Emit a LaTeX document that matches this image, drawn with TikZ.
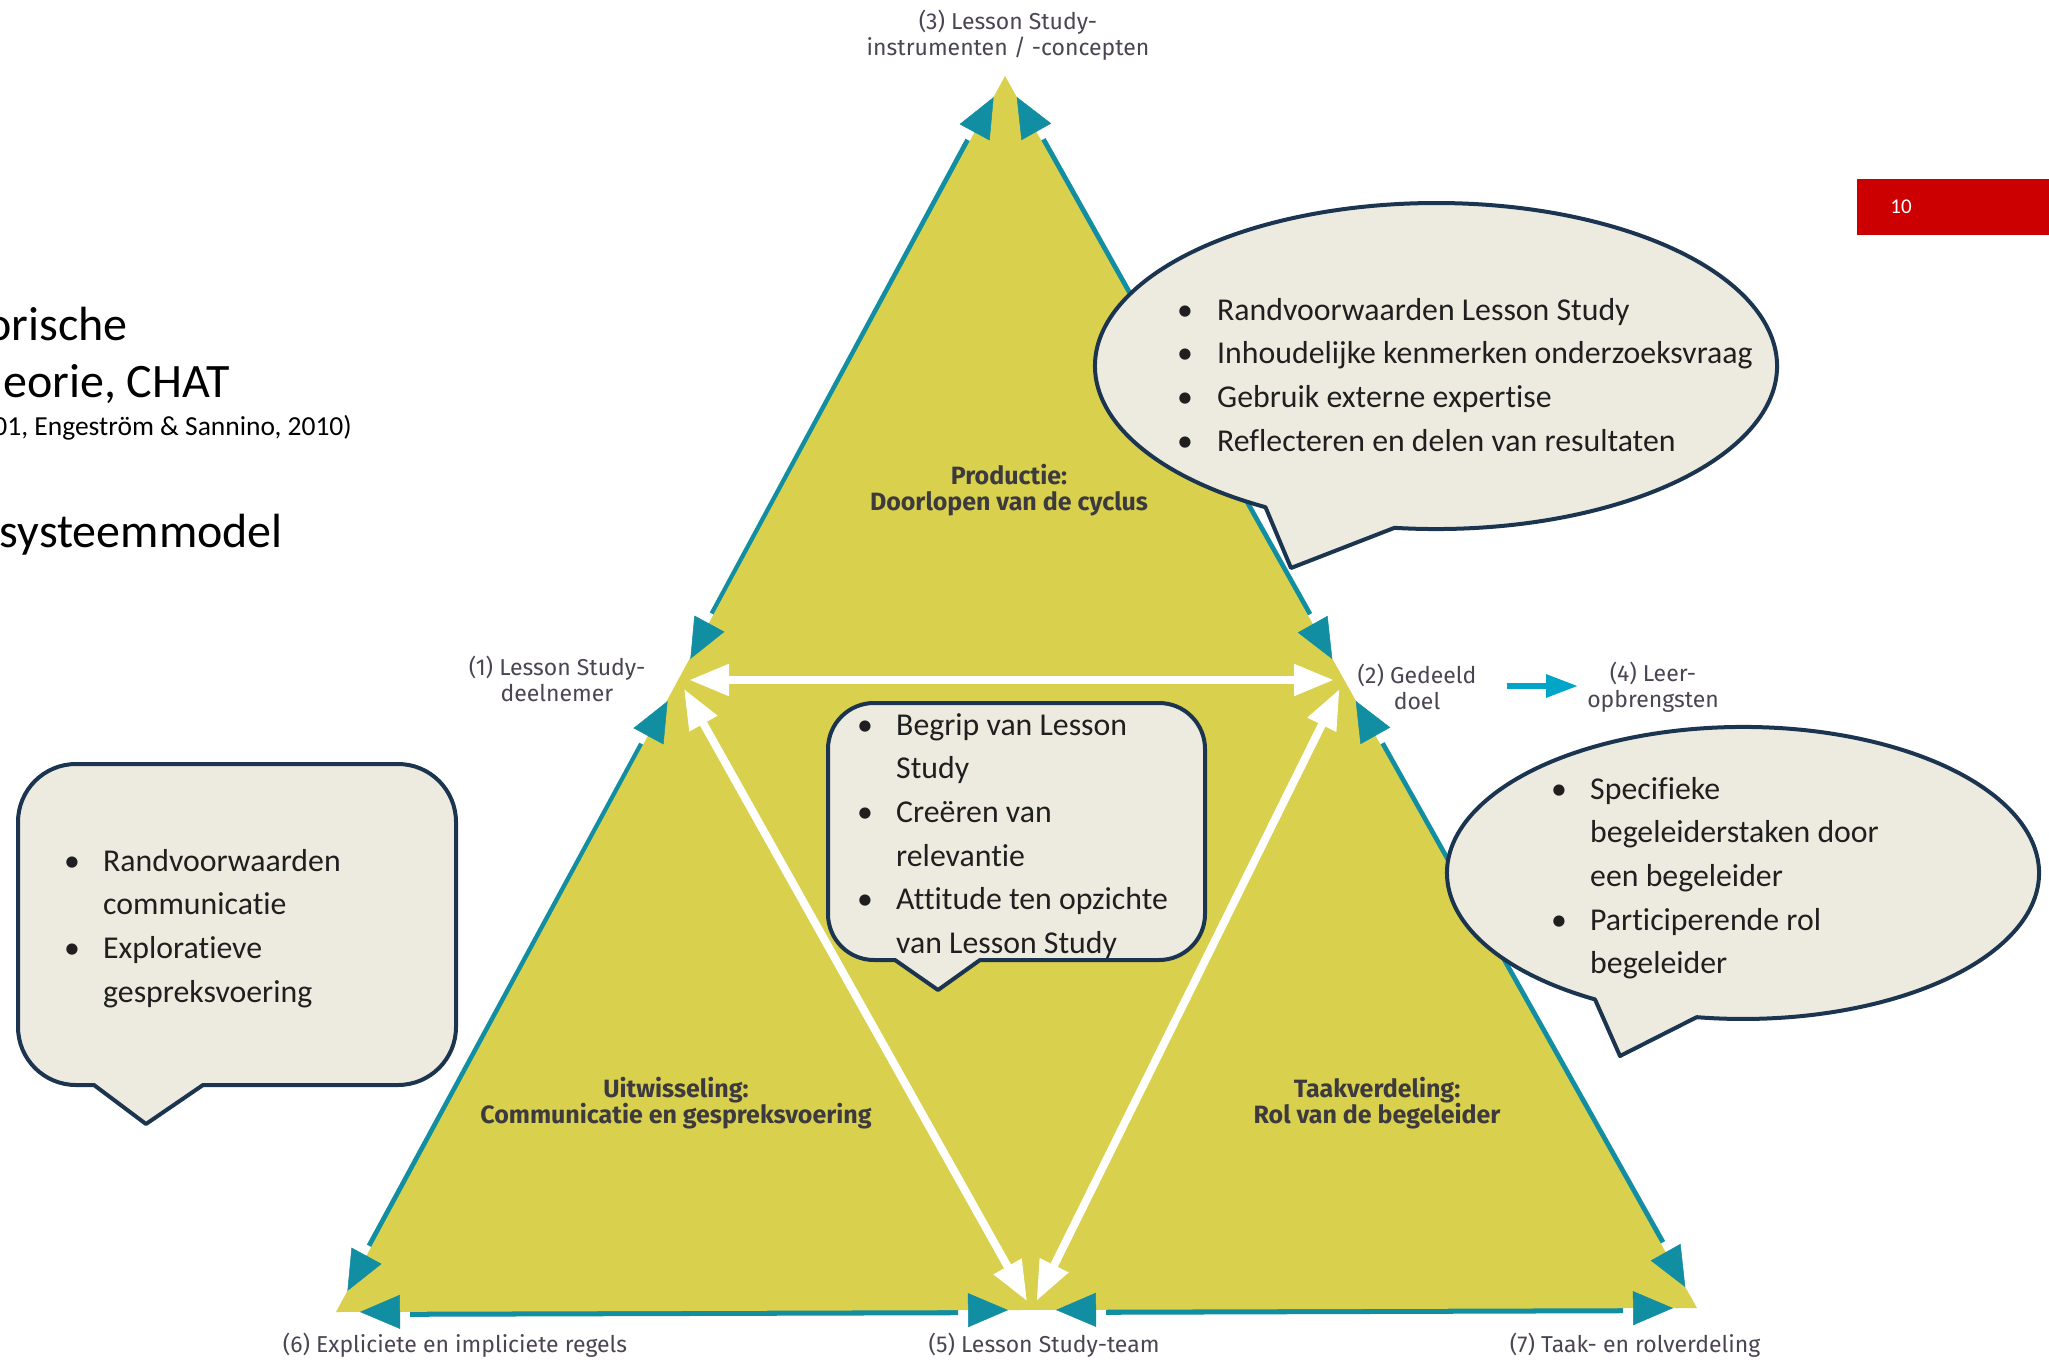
\documentclass[tikz,border=0pt]{standalone}
\usepackage{fontspec}
\setmainfont{Carlito}[Ligatures=NoCommon]
\newfontfamily\lblfont{Fira Sans}[Ligatures=NoCommon]
\usetikzlibrary{arrows.meta,calc}
\definecolor{yel}{HTML}{D9D04D}
\definecolor{tealc}{HTML}{128EA2}
\definecolor{cyanc}{HTML}{00A5C8}
\definecolor{callfill}{HTML}{EDEBE0}
\definecolor{callline}{HTML}{1B3550}
\definecolor{lblc}{HTML}{4B4453}
\definecolor{boldc}{HTML}{3D3A3F}
\definecolor{redc}{HTML}{CC0000}
\newcommand\tealheads[2]{%
  \draw[tealhead] ($(#1)!64pt!(#2)$) -- ($(#1)!24pt!(#2)$);
  \draw[tealhead] ($(#2)!64pt!(#1)$) -- ($(#2)!24pt!(#1)$);}
\newcommand\teallines[2]{%
  \draw[tealline] ($(#1)!74pt!(#2)$) -- ($(#2)!74pt!(#1)$);}
\begin{document}
\begin{tikzpicture}[x=1pt,y=-1pt,
  tealhead/.style={draw=tealc,fill=tealc,line width=0.5pt,-{Triangle[length=40pt,width=34pt]}},
  tealline/.style={draw=tealc,line width=10pt},
  whitearr/.style={draw=white,line width=8pt,{Triangle[length=40pt,width=30pt]}-{Triangle[length=40pt,width=30pt]},shorten <=10pt,shorten >=10pt},
  cyanarr/.style={draw=cyanc,line width=6pt,-{Triangle[length=32pt,width=22pt]}},
  lbl/.style={font=\lblfont\fontsize{23}{25.5}\selectfont,text=lblc,align=center,inner sep=0pt},
  blbl/.style={font=\lblfont\bfseries\fontsize{25}{26}\selectfont,text=boldc,align=center,inner sep=0pt},
  callout/.style={fill=callfill,draw=callline,line width=4pt,line join=round},
  ctext/.style={font=\fontsize{31.8}{40}\selectfont,text=black!88,anchor=base west,inner sep=0pt},
  cbul/.style={font=\fontsize{31.8}{40}\selectfont,text=black!88,anchor=base,inner sep=0pt},
  slide/.style={font=\fontsize{48}{52}\selectfont,text=black,anchor=base east,inner sep=0pt},
]
\useasboundingbox (0,0) rectangle (2049,1359);
\fill[white] (0,0) rectangle (2049,1359);
% triangle corners
\coordinate (A) at (1005,76);
\coordinate (P1) at (679,680);
\coordinate (P2) at (1344,680);
\coordinate (P6) at (336,1312);
\coordinate (P5) at (1032,1310);
\coordinate (P7) at (1697,1308);
% outer teal lines (under the triangle)
\teallines{A}{P1}
\teallines{P1}{P6}
\teallines{P6}{P5}
\teallines{P5}{P7}
\teallines{P7}{P2}
\teallines{P2}{A}
\fill[yel] (A) -- (P7) -- (P6) -- cycle;
% outer teal arrowheads
\tealheads{A}{P1}
\tealheads{P1}{P6}
\tealheads{P6}{P5}
\tealheads{P5}{P7}
\tealheads{P7}{P2}
\tealheads{P2}{A}
% inner white arrows
\draw[whitearr] (P1) -- (P2);
\draw[whitearr] (P1) -- (P5);
\draw[whitearr] (P2) -- (P5);
% labels
\node[lbl] (lab3) at (1008,35) {(3) Lesson Study-\\instrumenten / -concepten};
\node[lbl] (lab1) at (557,679) {(1) Lesson Study-\\deelnemer};
\node[lbl] (lab2) at (1417,687) {(2) Gedeeld\\doel};
\node[lbl] (lab4) at (1653,687) {(4) Leer-\\opbrengsten};
\node[lbl] (lab6) at (455,1345) {(6) Expliciete en impliciete regels};
\node[lbl] (lab5) at (1044,1345) {(5) Lesson Study-team};
\node[lbl] (lab7) at (1635,1345) {(7) Taak- en rolverdeling};
\node[blbl] (labP) at (1009,490) {Productie:\\Doorlopen van de cyclus};
\node[blbl] (labU) at (676,1103) {Uitwisseling:\\Communicatie en gespreksvoering};
\node[blbl] (labT) at (1377,1103) {Taakverdeling:\\Rol van de begeleider};
\coordinate (a4s) at (1507,686);
\coordinate (a4e) at (1578,686);
\draw[cyanarr] (a4s) -- (a4e);
% callout 1 (top right ellipse)
\path[callout] (1265.5,507.2) arc[start angle=120,end angle=457,x radius=341,y radius=163] -- (1291,568) -- cycle;
\node[cbul] (b11) at (1185,320) {•};
\node[ctext] (t11) at (1217,320) {Randvoorwaarden Lesson Study};
\node[cbul] (b12) at (1185,363.7) {•};
\node[ctext] (t12) at (1217,363.7) {Inhoudelijke kenmerken onderzoeksvraag};
\node[cbul] (b13) at (1185,407.4) {•};
\node[ctext] (t13) at (1217,407.4) {Gebruik externe expertise};
\node[cbul] (b14) at (1185,451) {•};
\node[ctext] (t14) at (1217,451) {Reflecteren en delen van resultaten};
% callout 2 (middle box)
\path[callout] (874,703) -- (1159,703) arc[start angle=-90,end angle=0,radius=46] -- (1205,914) arc[start angle=0,end angle=90,radius=46] -- (980,960) -- (938,990) -- (895,960) -- (874,960) arc[start angle=90,end angle=180,radius=46] -- (828,749) arc[start angle=180,end angle=270,radius=46] -- cycle;
\node[cbul] (b21) at (865,735) {•};
\node[ctext] (t21) at (896,735) {Begrip van Lesson};
\node[ctext] (t22) at (896,778.7) {Study};
\node[cbul] (b22) at (865,822.4) {•};
\node[ctext] (t23) at (896,822.4) {Creëren van};
\node[ctext] (t24) at (896,866) {relevantie};
\node[cbul] (b23) at (865,909.8) {•};
\node[ctext] (t25) at (896,909.8) {Attitude ten opzichte};
\node[ctext] (t26) at (896,953.5) {van Lesson Study};
% callout 3 (left box)
\path[callout] (76,764) -- (398,764) arc[start angle=-90,end angle=0,radius=58] -- (456,1027) arc[start angle=0,end angle=90,radius=58] -- (203,1085) -- (146,1124) -- (94,1085) -- (76,1085) arc[start angle=90,end angle=180,radius=58] -- (18,822) arc[start angle=180,end angle=270,radius=58] -- cycle;
\node[cbul] (b31) at (72,871) {•};
\node[ctext] (t31) at (103,871) {Randvoorwaarden};
\node[ctext] (t32) at (103,914.7) {communicatie};
\node[cbul] (b32) at (72,958.4) {•};
\node[ctext] (t33) at (103,958.4) {Exploratieve};
\node[ctext] (t34) at (103,1002) {gespreksvoering};
% callout 4 (right ellipse)
\path[callout] (1595,999.4) arc[start angle=120,end angle=459,x radius=296,y radius=146] -- (1620,1056) -- cycle;
\node[cbul] (b41) at (1559,799) {•};
\node[ctext] (t41) at (1590,799) {Specifieke};
\node[ctext] (t42) at (1590,842.7) {begeleiderstaken door};
\node[ctext] (t43) at (1590,886.4) {een begeleider};
\node[cbul] (b42) at (1559,930) {•};
\node[ctext] (t44) at (1590,930) {Participerende rol};
\node[ctext] (t45) at (1590,973.8) {begeleider};
% slide text (cut at the left edge, as in the slide)
\node[slide] (s1) at (128,340) {orische};
\node[slide] (s2) at (230,397) {eorie, CHAT};
\node[slide,font=\fontsize{27.5}{30}\selectfont] (s3) at (352,435) {01, Engeström \& Sannino, 2010)};
\node[slide] (s4) at (283,547) {systeemmodel};
% page number
\fill[redc] (1857,179) rectangle (2049,235);
\node[font=\fontsize{21}{22}\selectfont,text=white,inner sep=0pt] (pg) at (1901,207) {10};
\end{tikzpicture}
\end{document}
